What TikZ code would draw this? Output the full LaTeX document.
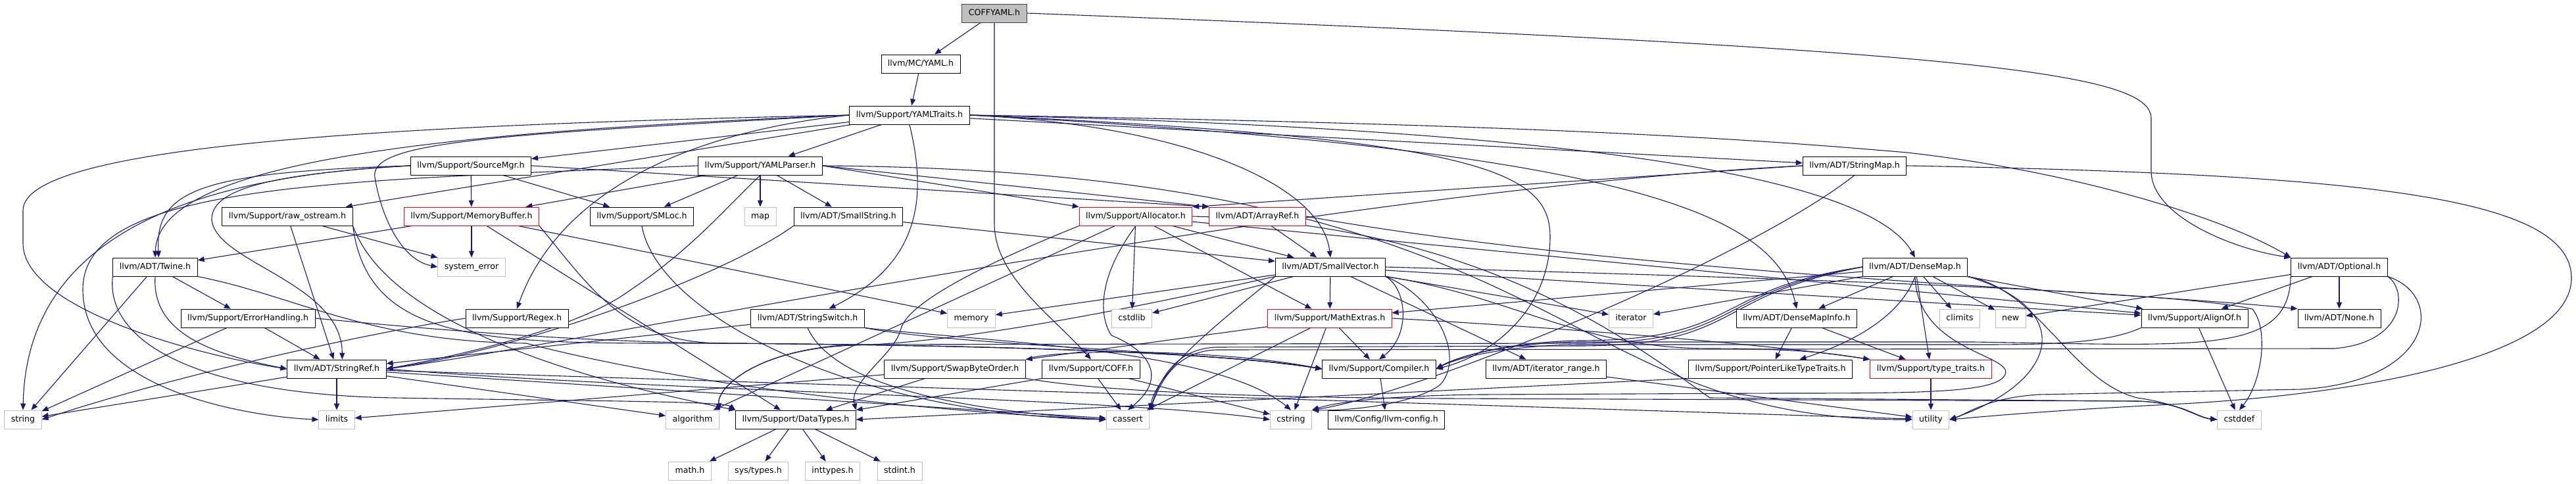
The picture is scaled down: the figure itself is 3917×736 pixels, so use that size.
\documentclass[tikz,border=0pt]{standalone}
\usepackage{fontspec}
\setmainfont{DejaVu Sans}
\usetikzlibrary{arrows.meta, backgrounds}
\definecolor{depBlue}{HTML}{191970}
\definecolor{sysGray}{HTML}{BFBFBF}
\definecolor{rootGray}{HTML}{BFBFBF}
\definecolor{rootLine}{HTML}{404040}
\tikzset{
  >={Triangle[length=10pt, width=8pt]},
  hdr/.style={rectangle, draw=black, line width=0.9pt, fill=white,
    minimum height=28pt, inner xsep=10pt, inner ysep=0pt,
    text height=9.4pt, text depth=2.6pt,
    font=\fontsize{12.6pt}{14pt}\selectfont},
  sys/.style={hdr, draw=sysGray},
  cut/.style={hdr, draw=red},
  rootfile/.style={hdr, fill=rootGray, draw=rootLine},
  dep/.style={->, line width=1.1pt, draw=depBlue},
}

\begin{document}
\begin{tikzpicture}[x=1pt, y=1pt]
  \useasboundingbox (0,0) rectangle (3917,-736);

  % ---- Nodes -------------------------------------------------------------
  \node[rootfile] (root)      at (1512,-20)  {COFFYAML.h};
  \node[hdr]      (yaml)      at (1400,-97)  {llvm/MC/YAML.h};
  \node[hdr]      (traits)    at (1383,-175) {llvm/Support/YAMLTraits.h};

  \node[hdr]      (srcmgr)    at (716,-252)  {llvm/Support/SourceMgr.h};
  \node[hdr]      (parser)    at (1156,-252) {llvm/Support/YAMLParser.h};
  \node[hdr]      (strmap)    at (2820,-252) {llvm/ADT/StringMap.h};

  \node[hdr]      (rawos)     at (437,-329)  {llvm/Support/raw\_ostream.h};
  \node[cut]      (membuf)    at (717,-329)  {llvm/Support/MemoryBuffer.h};
  \node[hdr]      (smloc)     at (976,-329)  {llvm/Support/SMLoc.h};
  \node[sys]      (map)       at (1156,-329) {map};
  \node[hdr]      (smallstr)  at (1290,-329) {llvm/ADT/SmallString.h};
  \node[cut]      (alloc)     at (1727,-329) {llvm/Support/Allocator.h};
  \node[cut]      (arrayref)  at (1912,-329) {llvm/ADT/ArrayRef.h};

  \node[hdr]      (twine)     at (236,-406)  {llvm/ADT/Twine.h};
  \node[sys]      (syserr)    at (717,-406)  {system\_error};
  \node[hdr]      (smallvec)  at (2023,-406) {llvm/ADT/SmallVector.h};
  \node[hdr]      (densemap)  at (2912,-406) {llvm/ADT/DenseMap.h};
  \node[hdr]      (optional)  at (3557,-406) {llvm/ADT/Optional.h};

  \node[hdr]      (errh)      at (377,-484)  {llvm/Support/ErrorHandling.h};
  \node[hdr]      (regex)     at (786,-484)  {llvm/Support/Regex.h};
  \node[hdr]      (strswitch) at (1228,-484) {llvm/ADT/StringSwitch.h};
  \node[sys]      (memory)    at (1477,-484) {memory};
  \node[sys]      (cstdlib)   at (1721,-484) {cstdlib};
  \node[cut]      (mathex)    at (2022,-484) {llvm/Support/MathExtras.h};
  \node[sys]      (iterator)  at (2480,-484) {iterator};
  \node[hdr]      (dmi)       at (2732,-484) {llvm/ADT/DenseMapInfo.h};
  \node[sys]      (climits)   at (2980,-484) {climits};
  \node[sys]      (new)       at (3057,-484) {new};
  \node[hdr]      (alignof)   at (3337,-484) {llvm/Support/AlignOf.h};
  \node[hdr]      (none)      at (3557,-484) {llvm/ADT/None.h};

  \node[hdr]      (strref)    at (512,-561)  {llvm/ADT/StringRef.h};
  \node[hdr]      (swap)      at (1452,-561) {llvm/Support/SwapByteOrder.h};
  \node[hdr]      (coff)      at (1659,-561) {llvm/Support/COFF.h};
  \node[hdr]      (compiler)  at (2097,-561) {llvm/Support/Compiler.h};
  \node[hdr]      (itrange)   at (2351,-561) {llvm/ADT/iterator\_range.h};
  \node[hdr]      (pltt)      at (2692,-561) {llvm/Support/PointerLikeTypeTraits.h};
  \node[cut]      (typetr)    at (2936,-561) {llvm/Support/type\_traits.h};

  \node[sys]      (string)    at (35,-638)   {string};
  \node[sys]      (limits)    at (512,-638)  {limits};
  \node[sys]      (algorithm) at (1053,-638) {algorithm};
  \node[hdr]      (datatypes) at (1210,-638) {llvm/Support/DataTypes.h};
  \node[sys]      (cassert)   at (1715,-638) {cassert};
  \node[sys]      (cstring)   at (1963,-638) {cstring};
  \node[hdr]      (config)    at (2108,-638) {llvm/Config/llvm-config.h};
  \node[sys]      (utility)   at (2936,-638) {utility};
  \node[sys]      (cstddef)   at (3405,-638) {cstddef};

  \node[sys]      (mathh)     at (1049,-716) {math.h};
  \node[sys]      (systypes)  at (1153,-716) {sys/types.h};
  \node[sys]      (inttypes)  at (1266,-716) {inttypes.h};
  \node[sys]      (stdint)    at (1368,-716) {stdint.h};

  % ---- Edges -------------------------------------------------------------
  \begin{scope}[on background layer]
  % COFFYAML.h
  \draw[dep] (root) -- (yaml);
  \draw[dep] (root.south) -- (1512,-340) .. controls (1512,-420) and (1600,-480) .. (coff.north);
  \draw[dep] (root.east) .. controls (3000,-75) and (3271,-110) .. (3271,-180)
             -- (3271,-260) .. controls (3271,-330) and (3400,-380) .. (optional.north west);

  % YAML.h and YAMLTraits.h
  \draw[dep] (yaml) -- (traits);
  \draw[dep] (traits) -- (srcmgr);
  \draw[dep] (traits) -- (parser);
  \draw[dep] (traits) -- (strmap);
  \draw[dep] (traits) -- (rawos);
  \draw[dep] (traits.west) .. controls (700,-200) and (240,-240) .. (twine.north);
  \draw[dep] (traits.west) .. controls (750,-205) and (560,-215) .. (570,-270)
             .. controls (580,-330) and (610,-395) .. (syserr.west);
  \draw[dep] (traits.west) .. controls (1050,-200) and (850,-290) .. (regex.north);
  \draw[dep] (traits.south) .. controls (1410,-300) and (1400,-400) .. (strswitch.24);
  \draw[dep] (traits.east) .. controls (1800,-190) and (2010,-280) .. (smallvec.north);
  \draw[dep] (traits.east) .. controls (2250,-210) and (2357,-260) .. (2357,-360)
             .. controls (2357,-470) and (2270,-540) .. (compiler.east);
  \draw[dep] (traits.east) .. controls (2500,-230) and (2700,-330) .. (dmi.north);
  \draw[dep] (traits.east) .. controls (2600,-200) and (2860,-300) .. (densemap.north);
  \draw[dep] (traits.east) .. controls (2400,-190) and (2700,-215) .. (2900,-232)
             .. controls (3150,-260) and (3380,-330) .. (optional.north west);
  % the long loop round the left edge
  \draw[dep] (traits.west) .. controls (600,-190) and (35,-220) .. (35,-320)
             -- (35,-370) .. controls (35,-470) and (300,-540) .. (strref.west);

  % SourceMgr.h
  \draw[dep] (srcmgr) -- (membuf);
  \draw[dep] (srcmgr) -- (smloc);
  \draw[dep] (srcmgr.east) -- (arrayref.north west);
  \draw[dep] (srcmgr.west) .. controls (300,-262) and (236,-290) .. (twine.70);
  \draw[dep] (srcmgr.west) .. controls (250,-270) and (40,-380) .. (string.north);
  \draw[dep] (srcmgr.west) .. controls (400,-265) and (320,-290) .. (322,-335)
             .. controls (330,-400) and (520,-430) .. (strref.60);

  % YAMLParser.h
  \draw[dep] (parser) -- (map);
  \draw[dep] (parser) -- (smloc);
  \draw[dep] (parser) -- (smallstr);
  \draw[dep] (parser) -- (membuf);
  \draw[dep] (parser.east) -- (alloc.north west);
  \draw[dep] (parser.east) -- (arrayref.north west);
  \draw[dep] (parser.south) .. controls (1100,-320) and (1050,-380) .. (960,-440)
             .. controls (880,-500) and (700,-540) .. (strref.east);
  \draw[dep] (parser.west) .. controls (500,-275) and (126,-280) .. (126,-440)
             .. controls (126,-600) and (400,-635) .. (limits.west);
  \draw[dep] (parser.east) .. controls (2400,-260) and (2350,-640) .. (utility.west);

  % StringMap.h
  \draw[dep] (strmap.west) -- (alloc.north east);
  \draw[dep] (strmap.west) .. controls (2000,-290) and (900,-520) .. (strref.east);
  \draw[dep] (strmap.south) .. controls (2650,-400) and (2150,-600) .. (cstring.north east);
  % wide loop round the right edge
  \draw[dep] (strmap.east) .. controls (3600,-265) and (3905,-300) .. (3910,-420)
             .. controls (3915,-540) and (3600,-600) .. (3300,-615)
             .. controls (3100,-625) and (3000,-635) .. (utility.east);

  % raw_ostream.h
  \draw[dep] (rawos) -- (strref);
  \draw[dep] (rawos) -- (syserr);
  \draw[dep] (rawos.south east) .. controls (560,-530) and (760,-522) .. (1100,-522)
             .. controls (1500,-525) and (1850,-535) .. (compiler.west);
  \draw[dep] (rawos.south east) .. controls (600,-520) and (1000,-600) .. (datatypes.north west);

  % MemoryBuffer.h
  \draw[dep] (membuf) -- (syserr);
  \draw[dep] (membuf) -- (twine);
  \draw[dep] (membuf) -- (memory);
  \draw[dep] (membuf) -- (datatypes);
  \draw[dep] (membuf.south east) .. controls (900,-440) and (950,-522) .. (1100,-522)
             .. controls (1500,-525) and (1850,-535) .. (compiler.west);

  % SMLoc.h, SmallString.h
  \draw[dep] (smloc.south) .. controls (1000,-480) and (1300,-630) .. (cassert.west);
  \draw[dep] (smallstr) -- (smallvec);
  \draw[dep] (smallstr.south west) .. controls (1100,-420) and (800,-530) .. (strref.east);

  % Allocator.h
  \draw[dep] (alloc) -- (smallvec);
  \draw[dep] (alloc) -- (cstdlib);
  \draw[dep] (alloc) -- (mathex);
  \draw[dep] (alloc) -- (alignof);
  \draw[dep] (alloc) -- (algorithm);
  \draw[dep] (alloc.south west) .. controls (1500,-400) and (1380,-460) .. (1370,-500)
             .. controls (1360,-540) and (1290,-580) .. (datatypes.north east);
  \draw[dep] (alloc.south) .. controls (1670,-420) and (1670,-480) .. (1690,-510)
             .. controls (1740,-530) and (1780,-570) .. (cassert.north);
  \draw[dep] (alloc.east) .. controls (2250,-340) and (2480,-520) .. (2600,-605)
             -- (3250,-610) .. controls (3320,-612) and (3340,-635) .. (cstddef.west);

  % ArrayRef.h
  \draw[dep] (arrayref) -- (smallvec);
  \draw[dep] (arrayref.east) .. controls (2500,-420) and (3200,-440) .. (none.north west);

  % Twine.h
  \draw[dep] (twine) -- (errh);
  \draw[dep] (twine) -- (string);
  \draw[dep] (twine.south) .. controls (230,-510) and (330,-540) .. (strref.west);
  \draw[dep] (twine.south west) .. controls (160,-520) and (300,-600) .. (600,-605)
             .. controls (900,-610) and (1100,-610) .. (datatypes.north west);
  \draw[dep] (twine.south east) .. controls (450,-450) and (560,-520) .. (800,-522)
             .. controls (1100,-600) and (1500,-630) .. (cassert.west);

  % ErrorHandling.h, Regex.h
  \draw[dep] (errh) -- (strref);
  \draw[dep] (errh) -- (string);
  \draw[dep] (errh.east) .. controls (700,-505) and (900,-520) .. (1100,-522)
             .. controls (1500,-525) and (1850,-535) .. (compiler.west);
  \draw[dep] (regex.west) .. controls (600,-500) and (300,-560) .. (string.east);

  % StringSwitch.h
  \draw[dep] (strswitch) -- (strref);
  \draw[dep] (strswitch.south east) .. controls (1450,-525) and (1850,-535) .. (compiler.west);
  \draw[dep] (strswitch.south) .. controls (1260,-570) and (1400,-620) .. (cassert.west);
  \draw[dep] (strswitch.south east) .. controls (1500,-520) and (1850,-530) .. (cstring.north);

  % SmallVector.h
  \draw[dep] (smallvec) -- (itrange);
  \draw[dep] (smallvec) -- (alignof);
  \draw[dep] (smallvec) -- (mathex);
  \draw[dep] (smallvec) -- (cstdlib);
  \draw[dep] (smallvec) -- (iterator);
  \draw[dep] (smallvec) -- (memory);
  \draw[dep] (smallvec.south east) .. controls (2140,-440) and (2145,-510) .. (compiler.north);
  \draw[dep] (smallvec.south east) .. controls (2300,-450) and (2400,-530) .. (2600,-530)
             .. controls (2750,-530) and (2800,-540) .. (typetr.north west);
  \draw[dep] (smallvec.south west) .. controls (1850,-440) and (1500,-520) .. (1300,-525)
             .. controls (1150,-530) and (1090,-590) .. (algorithm.north east);
  \draw[dep] (smallvec.south west) .. controls (1880,-470) and (1760,-560) .. (cassert.north east);
  \draw[dep] (smallvec.east) .. controls (2600,-420) and (3300,-440) .. (3425,-470)
             .. controls (3450,-500) and (3440,-580) .. (cstddef.north);
  \draw[dep] (smallvec.south east) .. controls (2180,-450) and (2230,-540) .. (2190,-585)
             .. controls (2150,-615) and (2050,-625) .. (cstring.north east);

  % DenseMap.h
  \draw[dep] (densemap) -- (dmi);
  \draw[dep] (densemap) -- (alignof);
  \draw[dep] (densemap) -- (mathex);
  \draw[dep] (densemap) -- (typetr);
  \draw[dep] (densemap) -- (climits);
  \draw[dep] (densemap) -- (new);
  \draw[dep] (densemap) -- (iterator);
  \draw[dep] (densemap.south) .. controls (2890,-480) and (2820,-520) .. (pltt.18);
  \draw[dep] (densemap.west) .. controls (2600,-440) and (2650,-518) .. (2400,-518)
             .. controls (2300,-520) and (2220,-540) .. (compiler.east);
  \draw[dep] (densemap.west) .. controls (2600,-445) and (2650,-522) .. (2400,-522)
             -- (1300,-524) .. controls (1150,-530) and (1090,-590) .. (algorithm.north east);
  \draw[dep] (densemap.west) .. controls (2600,-450) and (2650,-526) .. (2400,-526)
             -- (1850,-528) .. controls (1780,-530) and (1760,-590) .. (cassert.north east);
  \draw[dep] (densemap.south east) .. controls (3100,-440) and (3150,-580) .. (3250,-605)
             .. controls (3320,-615) and (3340,-635) .. (cstddef.west);
  \draw[dep] (densemap.south) .. controls (2915,-540) and (3080,-540) .. (3045,-575)
             .. controls (3020,-598) and (2900,-598) .. (2700,-598)
             -- (2250,-600) .. controls (2100,-602) and (2030,-612) .. (cstring.north east);
  \draw[dep] (densemap.south east) .. controls (3160,-470) and (3130,-580) .. (utility.east);

  % Optional.h
  \draw[dep] (optional) -- (none);
  \draw[dep] (optional) -- (alignof);
  \draw[dep] (optional) -- (new);
  \draw[dep] (optional.south west) .. controls (3480,-540) and (3350,-525) .. (3000,-520)
             -- (2400,-520) .. controls (2300,-521) and (2220,-540) .. (compiler.east);
  \draw[dep] (optional.south east) .. controls (3660,-440) and (3660,-520) .. (3550,-530)
             -- (1850,-532) .. controls (1780,-534) and (1760,-595) .. (cassert.north east);
  \draw[dep] (optional.south east) .. controls (3720,-450) and (3700,-580) .. (3500,-592)
             -- (3100,-600) .. controls (3020,-605) and (2990,-630) .. (utility.east);

  % DenseMapInfo.h, MathExtras.h, AlignOf.h
  \draw[dep] (dmi) -- (pltt);
  \draw[dep] (dmi) -- (typetr);
  \draw[dep] (mathex) -- (compiler);
  \draw[dep] (mathex) -- (swap);
  \draw[dep] (mathex) -- (cassert);
  \draw[dep] (mathex) -- (cstring);
  \draw[dep] (mathex.east) .. controls (2400,-500) and (2700,-525) .. (typetr.north west);
  \draw[dep] (alignof) -- (cstddef);
  \draw[dep] (alignof.south west) .. controls (3200,-524) and (3100,-524) .. (3000,-524)
             -- (2400,-524) .. controls (2300,-525) and (2220,-542) .. (compiler.east);

  % StringRef.h
  \draw[dep] (strref) -- (limits);
  \draw[dep] (strref) -- (string);
  \draw[dep] (strref) -- (algorithm);
  \draw[dep] (strref) -- (cassert);
  \draw[dep] (strref) -- (utility);
  \draw[dep] (strref.east) .. controls (1000,-595) and (1700,-605) .. (cstring.west);

  % SwapByteOrder.h, COFF.h
  \draw[dep] (swap) -- (datatypes);
  \draw[dep] (swap) -- (limits);
  \draw[dep] (swap.north east) .. controls (1600,-530) and (1850,-530) .. (compiler.west);
  \draw[dep] (swap.south east) .. controls (1700,-600) and (2000,-605) .. (2200,-606)
             -- (3250,-610) .. controls (3320,-612) and (3340,-635) .. (cstddef.west);
  \draw[dep] (coff.south west) -- (datatypes.north east);
  \draw[dep] (coff) -- (cassert);
  \draw[dep] (coff) -- (cstring);

  % the bottom of the graph
  \draw[dep] (compiler) -- (config);
  \draw[dep] (itrange) -- (utility);
  \draw[dep] (pltt.south west) -- (datatypes.east);
  \draw[dep] (typetr) -- (utility);
  \draw[dep] (datatypes) -- (mathh);
  \draw[dep] (datatypes) -- (systypes);
  \draw[dep] (datatypes) -- (inttypes);
  \draw[dep] (datatypes) -- (stdint);
  \end{scope}

\end{tikzpicture}
\end{document}
